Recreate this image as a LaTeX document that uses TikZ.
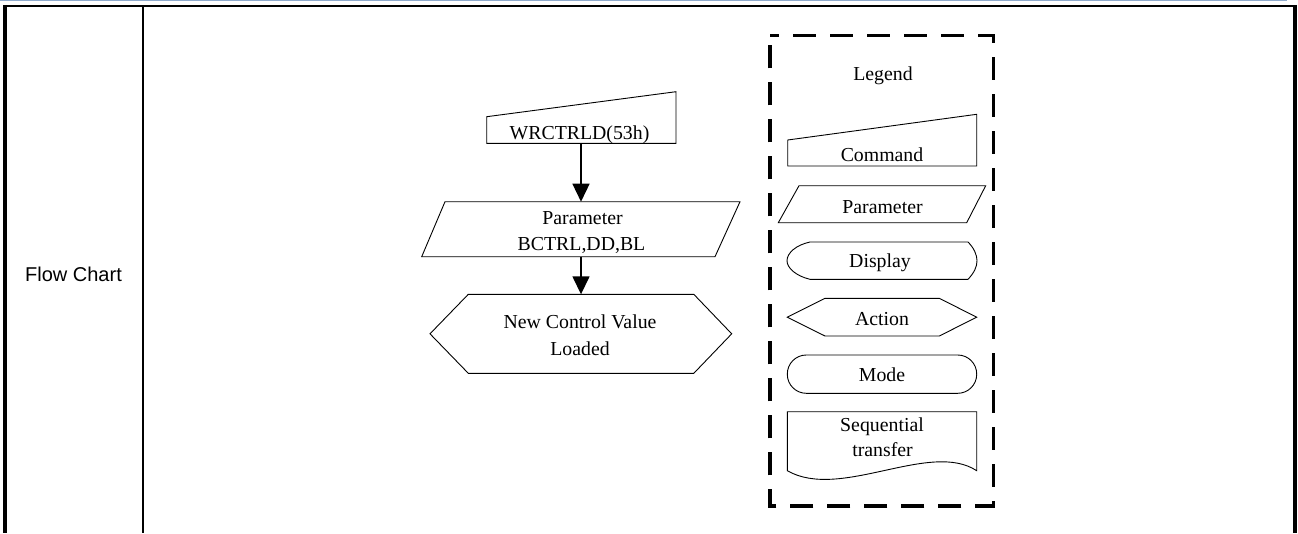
\documentclass[tikz,border=0pt]{standalone}
\usepackage{fontspec}
\setmainfont{Liberation Serif}
\newfontfamily\arialfont{Liberation Sans}
\usetikzlibrary{arrows.meta}
\definecolor{topblue}{RGB}{143,170,204}
\begin{document}
\begin{tikzpicture}[x=1pt,y=-1pt,
  shp/.style={draw=black, line width=0.9pt, line join=miter},
  lbl/.style={font=\fontsize{19.8}{24}\selectfont, anchor=base, inner sep=0pt},
  sidelbl/.style={font=\arialfont\fontsize{20}{24}\selectfont, anchor=base, inner sep=0pt},
  arr/.style={line width=1.5pt, -{Triangle[width=17pt,length=18pt]}},
  legendframe/.style={line width=3.6pt, dash pattern=on 23pt off 14pt, dash phase=14pt}]
\useasboundingbox (0,0) rectangle (1298,533);
% table frame
\draw[topblue, line width=1pt] (0,0.5) -- (1287,0.5);
\draw[line width=2.5pt] (3.3,6) -- (1296.7,6);
\draw[line width=3.7pt] (5.2,4.8) -- (5.2,533);
\draw[line width=2pt] (143,6) -- (143,533);
\draw[line width=4pt] (1294.7,4.8) -- (1294.7,533);
\node[sidelbl] (fc) at (73.5,281.7) {Flow Chart};

% flow chart shapes
\draw[shp] (486.7,116.7) -- (676,91.7) -- (676,143.3) -- (486.7,143.3) -- cycle;
\draw[shp] (445,201.7) -- (740,201.7) -- (715,256.7) -- (421.7,256.7) -- cycle;
\draw[shp] (430,333.8) -- (468.3,294.3) -- (693.8,294.3) -- (731.7,333.8) -- (693.8,373.3) -- (468.3,373.3) -- cycle;
\node[lbl] (cmdT) at (579.5,139) {WRCTRLD(53h)};
\node[lbl] (parT1) at (582.5,224) {Parameter};
\node[lbl] (parT2) at (581.5,250) {BCTRL,DD,BL};
\node[lbl] (actT1) at (580,328.3) {New Control Value};
\node[lbl] (actT2) at (580,355) {Loaded};
\coordinate (cmdS) at (581,143.3);
\coordinate (parN) at (581,201.7);
\coordinate (parS) at (581,256.7);
\coordinate (actN) at (581,294.3);
\draw[arr] (cmdS) -- (parN);
\draw[arr] (parS) -- (actN);

% legend
\draw[legendframe] (770,35.3) -- (993.3,35.3) -- (993.3,506) -- (770,506) -- cycle;
\node[lbl] (lgT) at (883,80) {Legend};
\draw[shp] (787.7,140) -- (976.7,114.3) -- (976.7,166) -- (787.7,166) -- cycle;
\node[lbl] (lgCmd) at (882,161.7) {Command};
\draw[shp] (799,185.7) -- (985.7,185.7) -- (966.7,222.7) -- (778.3,222.7) -- cycle;
\node[lbl] (lgPar) at (882.5,213.3) {Parameter};
\draw[shp] (810,242) -- (968,242)
  .. controls (974,248) and (977,255) .. (977,260.7)
  .. controls (977,267) and (974,273) .. (968,279.3)
  -- (810,279.3)
  .. controls (796,276) and (787,268) .. (787,260.7)
  .. controls (787,253) and (796,245) .. (810,242) -- cycle;
\node[lbl] (lgDisp) at (880,267.3) {Display};
\draw[shp] (787.3,317.2) -- (825,298.3) -- (939.3,298.3) -- (976.7,317.2) -- (939.3,336) -- (825,336) -- cycle;
\node[lbl] (lgAct) at (882,325) {Action};
\draw[shp, rounded corners=19pt] (787.3,355) rectangle (976.7,393.3);
\node[lbl] (lgMode) at (882,381.7) {Mode};
\draw[shp] (787.3,470.7) -- (787.3,411.7) -- (976.7,411.7) -- (976.7,470.7)
  .. controls (930,440) and (840,501) .. (787.3,470.7) -- cycle;
\node[lbl] (lgSeq1) at (882,431.7) {Sequential};
\node[lbl] (lgSeq2) at (882.5,456.7) {transfer};
\end{tikzpicture}
\end{document}
